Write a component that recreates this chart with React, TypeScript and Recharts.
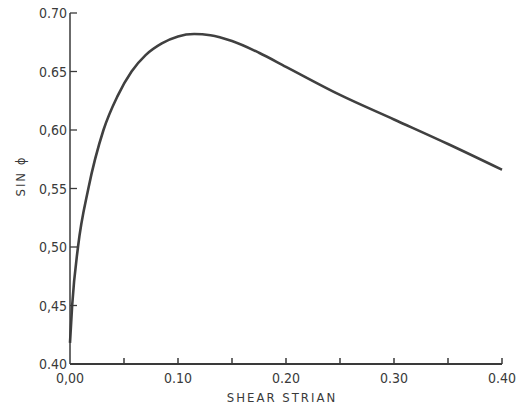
import { LineChart, Line, XAxis, YAxis, Label } from 'recharts'

const strain = [0, 0.002, 0.0074, 0.017, 0.031, 0.044, 0.057, 0.07, 0.085, 0.1, 0.115, 0.13, 0.15, 0.175, 0.2, 0.25, 0.3, 0.35, 0.4]
const sinPhi = [0.418, 0.45, 0.5, 0.55, 0.6, 0.629, 0.65, 0.664, 0.674, 0.68, 0.682, 0.681, 0.676, 0.666, 0.654, 0.63, 0.609, 0.588, 0.566]

const xTicks = [0, 0.05, 0.1, 0.15, 0.2, 0.25, 0.3, 0.35, 0.4]
const xTickLabels = ['0,00', '', '0.10', '', '0.20', '', '0.30', '', '0.40']
const yTicks = [0.4, 0.45, 0.5, 0.55, 0.6, 0.65, 0.7]
const yTickLabels = ['0.40', '0,45', '0,50', '0,55', '0,60', '0.65', '0.70']

const data = strain.map((s, i) => ({ strain: s, sin: sinPhi[i] }))

const ink = '#3a3a3a'
const font = '"DejaVu Sans Condensed", "DejaVu Sans", sans-serif'

function XTick(props: any) {
  const { x, y, payload } = props
  const i = xTicks.indexOf(payload.value)
  const label = i >= 0 ? xTickLabels[i] : ''
  return (
    <g>
      {payload.value > 0 && <line x1={x} y1={y} x2={x} y2={y - 6} stroke={ink} strokeWidth={1.5} />}
      {label && (
        <text x={x} y={y + 19} textAnchor="middle" fill={ink} fontSize={14} fontFamily={font}>
          {label}
        </text>
      )}
    </g>
  )
}

function YTick(props: any) {
  const { x, y, payload } = props
  const i = yTicks.indexOf(payload.value)
  const label = i >= 0 ? yTickLabels[i] : ''
  return (
    <g>
      {payload.value > 0.4 && <line x1={x} y1={y} x2={x + 7} y2={y} stroke={ink} strokeWidth={1.3} />}
      <text x={x - 3} y={y + 5} textAnchor="end" fill={ink} fontSize={14} fontFamily={font}>
        {label}
      </text>
    </g>
  )
}

export default function App() {
  return (
    <div style={{ position: 'absolute', left: 0, top: 0, width: 523, height: 405, background: '#fff' }}>
      <LineChart width={523} height={405} data={data} margin={{ top: 13, right: 21, bottom: 11, left: 0 }}>
        <XAxis
          dataKey="strain"
          type="number"
          domain={[0, 0.4]}
          ticks={xTicks}
          tick={<XTick />}
          tickSize={0}
          tickMargin={0}
          height={30}
          axisLine={{ stroke: ink, strokeWidth: 2 }}
          tickLine={false}
          interval={0}
        >
          <Label
            value="SHEAR STRIAN"
            position="insideBottom"
            offset={-8}
            dx={-4}
            fill={ink}
            fontSize={13}
            fontFamily={font}
            style={{ letterSpacing: '2px' }}
          />
        </XAxis>
        <YAxis
          type="number"
          domain={[0.4, 0.7]}
          ticks={yTicks}
          tick={<YTick />}
          tickSize={0}
          tickMargin={0}
          width={70}
          axisLine={{ stroke: ink, strokeWidth: 1.5 }}
          tickLine={false}
          interval={0}
        >
          <Label
            value="SIN ϕ"
            angle={-90}
            position="insideLeft"
            offset={20}
            dy={8}
            fill={ink}
            fontSize={13}
            fontFamily={font}
            style={{ letterSpacing: '2px' }}
          />
        </YAxis>
        <Line
          type="monotone"
          dataKey="sin"
          stroke="#404040"
          strokeWidth={2.6}
          dot={false}
          isAnimationActive={false}
        />
      </LineChart>
    </div>
  )
}
